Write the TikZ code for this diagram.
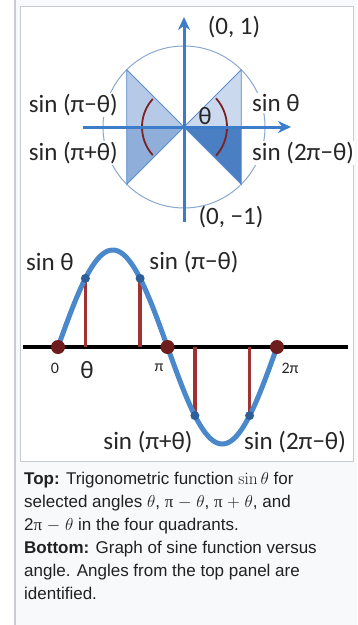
\documentclass[tikz,border=0pt]{standalone}
\usepackage[no-math]{fontspec}
\setmainfont{Liberation Sans}
\newfontfamily\figfont{Carlito}
\newfontfamily\capserif{Liberation Serif}
\usetikzlibrary{arrows.meta}
\definecolor{pagebg}{HTML}{F8F9FA}
\definecolor{framegray}{HTML}{C8CCD1}
\definecolor{captext}{HTML}{202122}
\definecolor{axisblue}{HTML}{3D7CC9}
\definecolor{circblue}{HTML}{8AA9CF}
\definecolor{edgeblue}{HTML}{5B8CCC}
\definecolor{qone}{HTML}{CAD9EE}
\definecolor{qtwo}{HTML}{B6CAE7}
\definecolor{qthree}{HTML}{8FAEDA}
\definecolor{qfour}{HTML}{4A7FC3}
\definecolor{arcred}{HTML}{7B2222}
\definecolor{stemred}{HTML}{A03232}
\definecolor{dotred}{HTML}{6E1C1C}
\definecolor{curveblue}{HTML}{4A88CC}
\definecolor{dotblue}{HTML}{2E5F99}
\newcommand{\uppi}{{\capserif π}}
\tikzset{
  lbl/.style={font=\figfont\fontsize{25}{25}\selectfont, inner sep=1pt, text=black!85},
  lblw/.style={lbl, fill=white},
  small/.style={font=\figfont\fontsize{16}{16}\selectfont, inner sep=1pt, text=black!85},
  axisarrow/.style={axisblue, line width=3pt, -{Stealth[length=13pt, width=12pt]}},
  tri/.style={draw=edgeblue, line width=0.8pt},
  anglearc/.style={arcred, line width=1.8pt},
  stem/.style={stemred, line width=3.5pt},
  capline/.style={anchor=base west, inner sep=0pt, text=captext,
    font=\fontsize{17}{23}\selectfont},
}
\begin{document}
\begin{tikzpicture}[x=1pt, y=-1pt]
\useasboundingbox (0,0) rectangle (357,625);
% thumbnail box
\fill[pagebg] (16,0) rectangle (357,625);
\fill[framegray] (14,0) rectangle (16,625);
\filldraw[fill=white, draw=framegray, line width=1pt] (20,6) rectangle (353,461);

% --- unit circle ---
\coordinate (O) at (184,127);
\coordinate (P1) at (241.3,69.7);
\coordinate (X1) at (241.3,127);
\coordinate (P4) at (241.3,184.3);
\coordinate (P2) at (126.7,69.7);
\coordinate (X2) at (126.7,127);
\coordinate (P3) at (126.7,184.3);
\draw[circblue, line width=1pt] (O) circle (81);
\filldraw[fill=qone, tri] (O) -- (P1) -- (X1) -- cycle;
\filldraw[fill=qtwo, tri] (O) -- (P2) -- (X2) -- cycle;
\filldraw[fill=qthree, tri] (O) -- (P3) -- (X2) -- cycle;
\filldraw[fill=qfour, tri] (O) -- (P4) -- (X1) -- cycle;
\draw[anglearc] (O) ++(-42:43) arc[start angle=-42, end angle=42, radius=43];
\draw[anglearc] (O) ++(138:42) arc[start angle=138, end angle=222, radius=42];
\coordinate (hl) at (83,127);
\coordinate (hr) at (291,127);
\coordinate (vb) at (184,222);
\coordinate (vt) at (184,17);
\draw[axisarrow] (hl) -- (hr);
\draw[axisarrow] (vb) -- (vt);
\node[lbl] (th) at (205,116) {θ};
\node[lbl] (top) at (234,27) {(0, 1)};
\node[lbl] (bot) at (231,217) {(0, −1)};
\node[lblw, anchor=east] (s2) at (119,105) {sin (π−θ)};
\node[lblw, anchor=east] (s3) at (119,153) {sin (π+θ)};
\node[lblw, anchor=west] (s1) at (251,103) {sin θ};
\node[lblw, anchor=west] (s4) at (251,153) {sin (2π−θ)};

% --- sine graph ---
\coordinate (al) at (23,347);
\coordinate (ar) at (348,347);
\coordinate (z0) at (58,347);
\coordinate (zpi) at (167.5,347);
\coordinate (z2pi) at (277,347);
\coordinate (f1) at (85.4,347);
\coordinate (f2) at (140.1,347);
\coordinate (f3) at (194.9,347);
\coordinate (f4) at (249.6,347);
\coordinate (c1) at (85.4,278.4);
\coordinate (c2) at (140.1,278.4);
\coordinate (c3) at (194.9,415.6);
\coordinate (c4) at (249.6,415.6);
\draw[black, line width=3.5pt] (al) -- (ar);
\draw[stem] (f1) -- (c1);
\draw[stem] (f2) -- (c2);
\draw[stem] (f3) -- (c3);
\draw[stem] (f4) -- (c4);
\draw[curveblue, line width=5pt, line cap=round]
  plot[domain=0:360, samples=120] ({58+\x/360*219},{347-97*sin(\x)});
\foreach \p in {z0,zpi,z2pi} \fill[dotred] (\p) circle (7);
\foreach \p in {c1,c2,c3,c4} \fill[dotblue] (\p) circle (4.5);
\node[small] (l0) at (55,368) {0};
\node[lbl] (lth) at (87,370) {θ};
\node[small] (lpi) at (159,368) {π};
\node[small] (l2pi) at (290,368) {2π};
\node[lbl] (g1) at (50,262) {sin θ};
\node[lbl] (g2) at (194,262) {sin (π−θ)};
\node[lbl] (g3) at (148,442) {sin (π+θ)};
\node[lbl] (g4) at (295,442) {sin (2π−θ)};

% --- caption ---
\node[capline] (t1) at (24,484) {\textbf{Top:} Trigonometric function $\sin\theta$ for};
\node[capline] (t2) at (24,507) {selected angles $\theta$, \uppi\ $-$ $\theta$, \uppi\ $+$ $\theta$, and};
\node[capline] (t3) at (24,530) {2\uppi\ $-$ $\theta$ in the four quadrants.};
\node[capline] (t4) at (24,553) {\textbf{Bottom:} Graph of sine function versus};
\node[capline] (t5) at (24,576) {angle. Angles from the top panel are};
\node[capline] (t6) at (24,599) {identified.};
\end{tikzpicture}
\end{document}
